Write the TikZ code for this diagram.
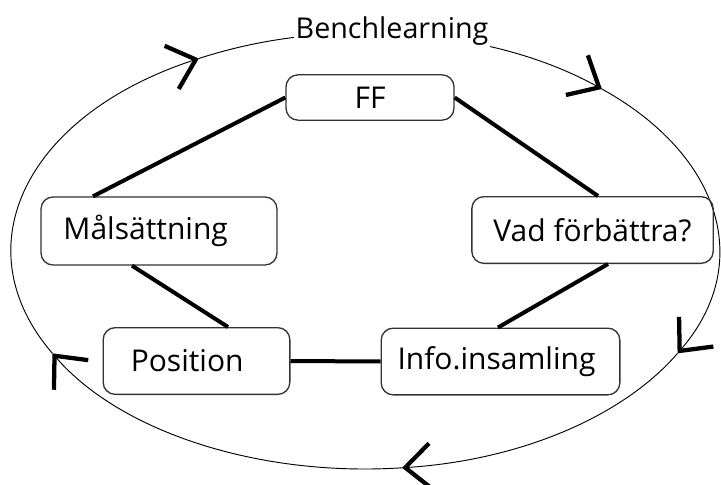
\documentclass[tikz,border=0pt]{standalone}
\usepackage{fontspec}
\setmainfont{Open Sans}
\usetikzlibrary{arrows.meta,calc}
\begin{document}
\begin{tikzpicture}[x=0.75pt,y=-0.75pt,
  box/.style={draw=black!80, line width=1pt, rounded corners=9pt, inner sep=0pt,
    font=\fontsize{22.5}{26}\selectfont},
  link/.style={line width=3pt},
  orbit/.style={line width=0.7pt, -{Straight Barb[length=19pt,width=34pt,line width=3.2pt]}},
  title/.style={fill=white, inner sep=1pt, font=\fontsize{21.5}{25}\selectfont}]
\useasboundingbox (0,0) rectangle (721,485);
\coordinate (c) at (365,251);
% orbit with arrows (clockwise)
\draw[orbit] ($(c)+(312:354 and 218)$) arc[start angle=312, end angle=388, x radius=354, y radius=218];
\draw[orbit] ($(c)+(28:354 and 218)$) arc[start angle=28, end angle=84, x radius=354, y radius=218];
\draw[orbit] ($(c)+(84:354 and 218)$) arc[start angle=84, end angle=152, x radius=354, y radius=218];
\draw[orbit] ($(c)+(152:354 and 218)$) arc[start angle=152, end angle=242, x radius=354, y radius=218];
\draw[orbit] ($(c)+(242:354 and 218)$) arc[start angle=242, end angle=312, x radius=354, y radius=218];
\node[title] (bench) at (392,31) {Benchlearning};
% boxes
\node[box, minimum width=126pt, minimum height=34pt] (ff) at (370,97.5) {FF};
\node[box, minimum width=177pt, minimum height=51pt] (mal) at (159,231) {\hspace*{-20pt}Målsättning};
\node[box, minimum width=181pt, minimum height=50pt] (vad) at (592.5,230) {Vad förbättra?};
\node[box, minimum width=140pt, minimum height=50pt] (pos) at (196.5,361) {\hspace*{-14pt}Position};
\node[box, minimum width=179pt, minimum height=50pt] (info) at (500.5,361.5) {\hspace*{-6pt}Info.insamling};
% connectors
\draw[link] (ff.west) -- ($(mal.north)+(-66,0)$);
\draw[link] (ff.east) -- ($(vad.north)+(5.5,0)$);
\draw[link] ($(vad.south)+(15.5,0)$) -- ($(info.north)+(-2.5,0)$);
\draw[link] ($(mal.south)+(-27,0)$) -- ($(pos.north)+(31.5,0)$);
\draw[link] (pos.east) -- (info.west);
\end{tikzpicture}
\end{document}
